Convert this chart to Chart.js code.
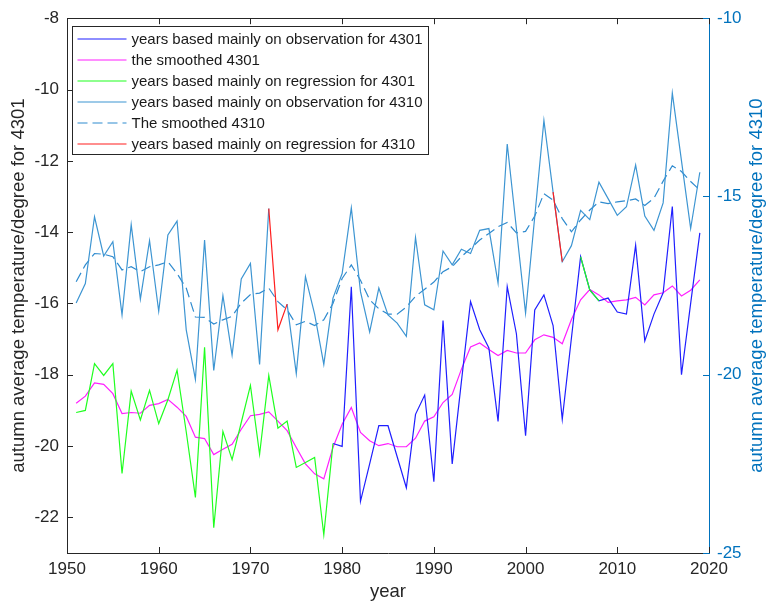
<!DOCTYPE html>
<html>
<head>
<meta charset="utf-8">
<script src="https://cdn.jsdelivr.net/npm/chart.js@4/dist/chart.umd.min.js"></script>
<style>
  html, body { margin: 0; padding: 0; background: #ffffff; }
  #wrap { width: 769px; height: 607px; }
</style>
</head>
<body>
<div id="wrap"><canvas id="c" width="769" height="607"></canvas></div>
<script>
// Years on the horizontal axis
const years = [
  1951, 1952, 1953, 1954, 1955, 1956, 1957, 1958, 1959, 1960,
  1961, 1962, 1963, 1964, 1965, 1966, 1967, 1968, 1969, 1970,
  1971, 1972, 1973, 1974, 1975, 1976, 1977, 1978, 1979, 1980,
  1981, 1982, 1983, 1984, 1985, 1986, 1987, 1988, 1989, 1990,
  1991, 1992, 1993, 1994, 1995, 1996, 1997, 1998, 1999, 2000,
  2001, 2002, 2003, 2004, 2005, 2006, 2007, 2008, 2009, 2010,
  2011, 2012, 2013, 2014, 2015, 2016, 2017, 2018, 2019
];

// Station 4301 (left axis), autumn mean temperature
const obs4301 = [
  null, null, null, null, null, null, null, null, null, null,
  null, null, null, null, null, null, null, null, null, null,
  null, null, null, null, null, null, null, null, -19.93, -20.01,
  -15.53, -21.55, -20.5, -19.43, -19.43, -20.3, -21.17, -19.11, -18.57, -21.0,
  -16.48, -20.5, -18.2, -15.95, -16.74, -17.25, -19.31, -15.53, -16.85, -19.71,
  -16.18, -15.76, -16.62, -19.25, -16.97, -14.69, -15.62, -15.93, -15.85, -16.24,
  -16.3, -14.37, -17.05, -16.3, -15.7, -13.28, -18.0, -16.0, -14.02
];
const smooth4301 = [
  -18.80, -18.6, -18.23, -18.27, -18.53, -19.09, -19.06, -19.08, -18.86, -18.81,
  -18.69, -18.91, -19.17, -19.75, -19.79, -20.24, -20.09, -19.95, -19.53, -19.15,
  -19.11, -19.04, -19.3, -19.57, -20.04, -20.5, -20.78, -20.92, -20.04, -19.39,
  -18.92, -19.62, -19.85, -19.99, -19.93, -20.02, -20.02, -19.78, -19.3, -19.18,
  -18.78, -18.55, -17.85, -17.22, -17.11, -17.29, -17.46, -17.32, -17.39, -17.39,
  -17.02, -16.88, -16.95, -17.13, -16.45, -15.9, -15.61, -15.76, -15.97, -15.93,
  -15.9, -15.83, -16.04, -15.76, -15.7, -15.51, -15.79, -15.63, -15.34
];
const reg4301 = [
  -19.06, -19.0, -17.69, -18.02, -17.69, -20.77, -18.46, -19.27, -18.44, -19.37,
  -18.7, -17.87, -19.6, -21.44, -17.23, -22.29, -19.59, -20.38, -19.34, -18.3,
  -20.23, -18.02, -19.5, -19.3, -20.6, -20.46, -20.32, -22.49, -19.93, null,
  null, null, null, null, null, null, null, null, null, null,
  null, null, null, null, null, null, null, null, null, null,
  null, null, null, null, null, -14.69, -15.62, -15.93, null, null,
  null, null, null, null, null, null, null, null, null
];

// Station 4310 (right axis), autumn mean temperature
const obs4310 = [
  -17.99, -17.44, -15.57, -16.67, -16.27, -18.32, -15.79, -17.88, -16.24, -18.22,
  -16.08, -15.69, -18.74, -20.13, -16.22, -19.88, -17.78, -19.45, -17.31, -16.88,
  -19.71, -15.34, null, -18.02, -19.97, -17.25, -18.3, -19.71, -17.85, -17.16,
  -15.32, -17.67, -18.8, -17.57, -18.32, -18.55, -18.92, -16.15, -18.04, -18.18,
  -16.53, -16.92, -16.48, -16.6, -15.95, -15.9, -17.43, -13.53, -15.9, -18.27,
  -15.57, -12.87, -14.88, -16.83, -16.38, -15.39, -15.65, -14.6, -15.06, -15.53,
  -15.29, -14.12, -15.55, -15.95, -15.18, -12.1, -14.0, -15.9, -14.32
];
const smooth4310 = [
  -17.39, -16.92, -16.6, -16.62, -16.69, -17.06, -16.97, -17.11, -16.97, -16.92,
  -16.83, -17.16, -17.57, -18.38, -18.39, -18.58, -18.46, -18.36, -17.99, -17.75,
  -17.71, -17.57, -17.95, -18.18, -18.6, -18.5, -18.62, -18.46, -18.0, -17.3,
  -16.92, -17.35, -17.9, -18.15, -18.3, -18.3, -18.1, -17.8, -17.6, -17.4,
  -17.11, -16.97, -16.69, -16.46, -16.22, -16.04, -15.85, -15.73, -16.02, -15.98,
  -15.55, -14.92, -15.1, -15.62, -15.99, -15.66, -15.38, -15.15, -15.2, -15.15,
  -15.12, -15.07, -15.25, -15.05, -14.57, -14.14, -14.3, -14.58, -14.82
];
const reg4310 = [
  null, null, null, null, null, null, null, null, null, null,
  null, null, null, null, null, null, null, null, null, null,
  null, -15.34, -18.74, -18.02, null, null, null, null, null, null,
  null, null, null, null, null, null, null, null, null, null,
  null, null, null, null, null, null, null, null, null, null,
  null, null, -14.88, -16.83, null, null, null, null, null, null,
  null, null, null, null, null, null, null, null, null
];

// Tick values
const xTicks = [1950, 1960, 1970, 1980, 1990, 2000, 2010, 2020];
const leftTicks = [-22, -20, -18, -16, -14, -12, -10, -8];
const rightTicks = [-25, -20, -15, -10];

const FONT = "'Liberation Sans', Arial, Helvetica, sans-serif";
const AXIS_GRAY = '#262626';
const RIGHT_BLUE = '#0072BD';
const TICK_LEN = 6;

const toPoints = vals => years.map((yr, i) => ({ x: yr, y: vals[i] }));

// Axis frame: top edge plus inward-pointing tick marks
const frameTicks = {
  id: 'frameTicks',
  afterDraw(chart) {
    const { ctx, chartArea: a } = chart;
    const al = v => Math.round(v) + 0.5;
    ctx.save();
    ctx.lineWidth = 1;
    ctx.strokeStyle = AXIS_GRAY;
    ctx.beginPath();
    ctx.moveTo(a.left, al(a.top));
    ctx.lineTo(a.right, al(a.top));
    const xs = chart.scales.x;
    xs.ticks.forEach(t => {
      const px = al(xs.getPixelForValue(t.value));
      ctx.moveTo(px, a.bottom); ctx.lineTo(px, a.bottom - TICK_LEN);
      ctx.moveTo(px, a.top); ctx.lineTo(px, a.top + TICK_LEN);
    });
    const ys = chart.scales.y;
    ys.ticks.forEach(t => {
      const py = al(ys.getPixelForValue(t.value));
      ctx.moveTo(a.left, py); ctx.lineTo(a.left + TICK_LEN, py);
    });
    ctx.stroke();
    ctx.strokeStyle = RIGHT_BLUE;
    ctx.beginPath();
    const ys1 = chart.scales.y1;
    ys1.ticks.forEach(t => {
      const py = al(ys1.getPixelForValue(t.value));
      ctx.moveTo(a.right, py); ctx.lineTo(a.right - TICK_LEN, py);
    });
    ctx.stroke();

    // right-hand axis title, reading bottom to top
    ctx.fillStyle = RIGHT_BLUE;
    ctx.font = '18.5px ' + FONT;
    ctx.textAlign = 'center';
    ctx.textBaseline = 'middle';
    ctx.translate(ys1.right - 12, (a.top + a.bottom) / 2);
    ctx.rotate(-Math.PI / 2);
    ctx.fillText('autumn average temperature/degree for 4310', 0, 0);
    ctx.restore();
  }
};

// Boxed legend in the upper-left corner of the plot
const boxLegend = {
  id: 'boxLegend',
  afterDatasetsDraw(chart) {
    const { ctx, chartArea: a } = chart;
    const left = Math.round(a.left + 5) + 0.5;
    const top = Math.round(a.top + 8) + 0.5;
    const w = 356, h = 128, rowH = 21;
    ctx.save();
    ctx.fillStyle = '#ffffff';
    ctx.fillRect(left, top, w, h);
    ctx.strokeStyle = AXIS_GRAY;
    ctx.lineWidth = 1;
    ctx.strokeRect(left, top, w, h);
    ctx.font = '15px ' + FONT;
    ctx.textBaseline = 'middle';
    ctx.textAlign = 'left';
    chart.data.datasets.forEach((ds, i) => {
      const y = top + 12.5 + i * rowH;
      ctx.strokeStyle = ds.borderColor;
      ctx.lineWidth = ds.borderWidth;
      ctx.setLineDash(ds.borderDash || []);
      ctx.beginPath();
      ctx.moveTo(left + 5, y);
      ctx.lineTo(left + 54, y);
      ctx.stroke();
      ctx.setLineDash([]);
      ctx.fillStyle = '#1a1a1a';
      ctx.fillText(ds.label, left + 59, y + 0.5);
    });
    ctx.restore();
  }
};

const lineDefaults = { pointRadius: 0, pointHoverRadius: 0, tension: 0, spanGaps: false, fill: false, borderWidth: 1.2 };

new Chart(document.getElementById('c'), {
  type: 'line',
  data: {
    datasets: [
      { ...lineDefaults, label: 'years based mainly on observation for 4301', data: toPoints(obs4301), borderColor: '#1f1fff', yAxisID: 'y', order: 1 },
      { ...lineDefaults, label: 'the smoothed 4301', data: toPoints(smooth4301), borderColor: '#ff1fff', yAxisID: 'y', order: 1 },
      { ...lineDefaults, label: 'years based mainly on regression for 4301', data: toPoints(reg4301), borderColor: '#1fff1f', yAxisID: 'y', order: 0 },
      { ...lineDefaults, label: 'years based mainly on observation for 4310', data: toPoints(obs4310), borderColor: '#3d95d2', yAxisID: 'y1', order: 1 },
      { ...lineDefaults, label: 'The smoothed 4310', data: toPoints(smooth4310), borderColor: '#2f8bcf', borderDash: [10, 5], yAxisID: 'y1', order: 1 },
      { ...lineDefaults, label: 'years based mainly on regression for 4310', data: toPoints(reg4310), borderColor: '#ff1f1f', yAxisID: 'y1', order: 0 }
    ]
  },
  options: {
    responsive: false,
    animation: false,
    devicePixelRatio: 1,
    layout: { padding: { top: 15, left: 0, right: 0, bottom: 0 } },
    plugins: { legend: { display: false }, tooltip: { enabled: false } },
    scales: {
      x: {
        type: 'linear', position: 'bottom', min: 1950, max: 2020,
        afterBuildTicks: s => { s.ticks = xTicks.map(v => ({ value: v })); },
        afterFit: s => { s.height = 54; },
        grid: { display: false, drawTicks: false },
        border: { display: true, color: AXIS_GRAY, width: 1 },
        ticks: { color: AXIS_GRAY, font: { family: FONT, size: 17 }, padding: 6, maxRotation: 0, autoSkip: false, callback: v => String(v) },
        title: { display: true, text: 'year', color: AXIS_GRAY, font: { family: FONT, size: 18.5 }, padding: { top: 0, bottom: 4 } }
      },
      y: {
        type: 'linear', position: 'left', min: -23, max: -8,
        afterBuildTicks: s => { s.ticks = leftTicks.map(v => ({ value: v })); },
        afterFit: s => { s.width = 67; },
        grid: { display: false, drawTicks: false },
        border: { display: true, color: AXIS_GRAY, width: 1 },
        ticks: { color: AXIS_GRAY, font: { family: FONT, size: 17 }, padding: 8, callback: v => String(v) },
        title: { display: true, text: 'autumn average temperature/degree for 4301', color: AXIS_GRAY, font: { family: FONT, size: 18.5 }, padding: { top: 8, bottom: 0 } }
      },
      y1: {
        type: 'linear', position: 'right', min: -25, max: -10,
        afterBuildTicks: s => { s.ticks = rightTicks.map(v => ({ value: v })); },
        afterFit: s => { s.width = 60; },
        grid: { display: false, drawTicks: false },
        border: { display: true, color: RIGHT_BLUE, width: 1 },
        ticks: { color: RIGHT_BLUE, font: { family: FONT, size: 17 }, padding: 8, callback: v => String(v) },
        title: { display: false }
      }
    }
  },
  plugins: [frameTicks, boxLegend]
});
</script>
</body>
</html>
